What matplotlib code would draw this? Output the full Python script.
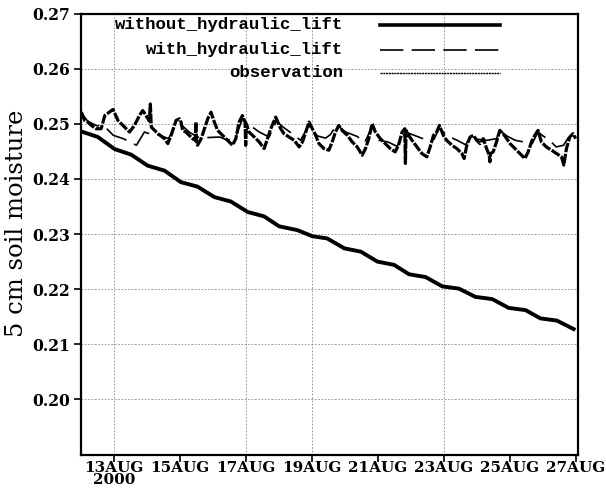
import matplotlib
matplotlib.use("Agg")
import matplotlib.pyplot as plt
from matplotlib.lines import Line2D

plt.rcParams['axes.grid'] = False

# time axis: days since 12AUG2000 00Z
tick_days = [1, 3, 5, 7, 9, 11, 13, 15]
tick_labels = ['13AUG\n2000', '15AUG', '17AUG', '19AUG', '21AUG', '23AUG', '25AUG', '27AUG']
grid_days = [1, 5, 7, 11]
y_ticks = [0.20, 0.21, 0.22, 0.23, 0.24, 0.25, 0.26, 0.27]

# without hydraulic lift (model)
dry_t = [0.01, 0.51, 1.02, 1.52, 2.02, 2.53, 3.03, 3.53, 4.04, 4.54, 5.05, 5.55,
         6.00, 6.56, 7.01, 7.46, 7.98, 8.48, 8.98, 9.49, 9.94, 10.44, 10.95, 11.45,
         11.95, 12.46, 12.96, 13.47, 13.92, 14.42, 14.98]
dry_v = [0.2486, 0.2476, 0.2454, 0.2444, 0.2424, 0.2415, 0.2394, 0.2386, 0.2367, 0.2359,
         0.2340, 0.2332, 0.2314, 0.2307, 0.2296, 0.2292, 0.2274, 0.2268, 0.2250, 0.2244,
         0.2227, 0.2222, 0.2205, 0.2201, 0.2186, 0.2182, 0.2166, 0.2162, 0.2147, 0.2143,
         0.2126]

# with hydraulic lift (model)
wet_t = [0.00, 0.20, 0.45, 0.73, 0.98, 1.28, 1.68, 1.77, 1.92, 2.08, 2.40, 2.65, 2.85,
         3.00, 3.30, 3.60, 3.85, 4.20, 4.45, 4.70, 4.90, 5.10, 5.40, 5.70, 5.92, 6.10,
         6.40, 6.65, 6.90, 7.16, 7.41, 7.55, 7.75, 8.02, 8.37, 8.60, 8.82, 9.03, 9.30,
         9.58, 9.75, 9.84, 10.10, 10.49, 10.70, 10.85, 11.10, 11.40, 11.65, 11.85, 12.00,
         12.30, 12.59, 12.69, 12.90, 13.16, 13.67, 13.85, 14.00, 14.20, 14.40, 14.62,
         14.80, 15.00]
wet_v = [0.2520, 0.2505, 0.2497, 0.2494, 0.2479, 0.2473, 0.2461, 0.2470, 0.2485, 0.2482,
         0.2479, 0.2473, 0.2495, 0.2500, 0.2484, 0.2474, 0.2475, 0.2476, 0.2470, 0.2478,
         0.2510, 0.2498, 0.2485, 0.2476, 0.2505, 0.2495, 0.2482, 0.2470, 0.2497, 0.2478,
         0.2474, 0.2480, 0.2498, 0.2485, 0.2477, 0.2466, 0.2495, 0.2470, 0.2467, 0.2459,
         0.2475, 0.2485, 0.2479, 0.2470, 0.2472, 0.2492, 0.2478, 0.2470, 0.2462, 0.2478,
         0.2472, 0.2470, 0.2473, 0.2488, 0.2478, 0.2470, 0.2464, 0.2485, 0.2478, 0.2470,
         0.2458, 0.2461, 0.2478, 0.2476]

# observation
obs_t = [0.01, 0.11, 0.21, 0.31, 0.46, 0.61, 0.72, 0.97, 1.12, 1.32, 1.47, 1.62, 1.77,
         1.87, 1.97, 2.07, 2.10, 2.13, 2.18, 2.33, 2.53, 2.63, 2.73, 2.88, 2.98,
         3.03, 3.08, 3.18, 3.28, 3.38, 3.46, 3.48, 3.50, 3.53, 3.64, 3.74, 3.84, 3.94,
         4.04, 4.14, 4.29, 4.44, 4.59, 4.69, 4.79, 4.89, 4.97, 4.99, 5.01, 5.09, 5.25,
         5.40, 5.55, 5.65, 5.75, 5.90,
         6.05, 6.15, 6.30, 6.46, 6.61, 6.71, 6.81, 6.91, 7.01, 7.11, 7.21, 7.36, 7.51,
         7.61, 7.71, 7.81, 7.91, 8.07, 8.22, 8.37, 8.52, 8.62, 8.72, 8.82, 8.92,
         9.07, 9.22, 9.37, 9.52, 9.62, 9.73, 9.81, 9.83, 9.85, 9.93, 10.03, 10.18,
         10.33, 10.48, 10.58, 10.68, 10.78, 10.86, 10.98, 11.08, 11.24, 11.39, 11.54,
         11.61, 11.69, 11.79, 11.89, 11.99,
         12.09, 12.19, 12.29, 12.37, 12.39, 12.41, 12.49, 12.59, 12.69, 12.79, 12.90,
         13.00, 13.15, 13.30, 13.45, 13.55, 13.65, 13.75, 13.85, 13.95, 14.10, 14.26,
         14.41, 14.56, 14.63, 14.71, 14.81, 14.91, 14.99]
obs_v = [0.2521, 0.2506, 0.2503, 0.2497, 0.2491, 0.2491, 0.2515, 0.2526, 0.2506, 0.2494,
         0.2485, 0.2497, 0.2515, 0.2524, 0.2515, 0.2505, 0.2536, 0.2494, 0.2491, 0.2482,
         0.2473, 0.2464, 0.2479, 0.2506, 0.2509,
         0.2503, 0.2488, 0.2485, 0.2479, 0.2473, 0.2470, 0.2503, 0.2468, 0.2461, 0.2473,
         0.2491, 0.2509, 0.2521, 0.2503, 0.2488, 0.2479, 0.2470, 0.2461, 0.2473, 0.2503,
         0.2515, 0.2503, 0.2461, 0.2500, 0.2485, 0.2476, 0.2467, 0.2455, 0.2473, 0.2491,
         0.2512,
         0.2491, 0.2482, 0.2476, 0.2470, 0.2458, 0.2467, 0.2485, 0.2503, 0.2491, 0.2479,
         0.2464, 0.2455, 0.2452, 0.2467, 0.2485, 0.2497, 0.2488, 0.2479, 0.2467, 0.2458,
         0.2443, 0.2455, 0.2473, 0.2500, 0.2485,
         0.2473, 0.2464, 0.2455, 0.2449, 0.2461, 0.2485, 0.2491, 0.2428, 0.2488, 0.2479,
         0.2470, 0.2458, 0.2446, 0.2440, 0.2458, 0.2479, 0.2485, 0.2497, 0.2479, 0.2470,
         0.2461, 0.2455, 0.2446, 0.2437, 0.2461, 0.2476, 0.2479, 0.2470,
         0.2464, 0.2473, 0.2455, 0.2443, 0.2431, 0.2446, 0.2449, 0.2467, 0.2488, 0.2482,
         0.2473, 0.2464, 0.2455, 0.2446, 0.2437, 0.2449, 0.2467, 0.2479, 0.2488, 0.2467,
         0.2458, 0.2452, 0.2446, 0.2440, 0.2425, 0.2455, 0.2476, 0.2482, 0.2473]

legend_names = ['without_hydraulic_lift', 'with_hydraulic_lift', 'observation']

fig = plt.figure(figsize=(6.06, 4.93), dpi=100)
ax = fig.add_axes([0.1337, 0.0780, 0.8201, 0.8946])

ax.plot(obs_t, obs_v, color='black', lw=2.3, linestyle=(0, (3, 0.5)))
ax.plot(wet_t, wet_v, color='black', lw=1.2, linestyle=(0, (14, 5)))
ax.plot(dry_t, dry_v, color='black', lw=2.8, solid_capstyle='butt')

ax.set_xlim(0, 15.06)
ax.set_ylim(0.19, 0.27)
ax.set_yticks(y_ticks)
ax.set_yticklabels([f'{v:.2f}' for v in y_ticks])
ax.set_xticks(tick_days)
ax.set_xticklabels(tick_labels, multialignment='center', linespacing=0.75)
ax.grid(False)

# dotted guide lines: every y tick, but only a few of the dates
for v in y_ticks[:-1]:
    ax.axhline(v, linestyle=(0, (2, 2)), color='#888888', lw=0.6, zorder=0)
for d in grid_days:
    ax.axvline(d, linestyle=(0, (2, 2)), color='#888888', lw=0.6, zorder=0)

ax.tick_params(direction='out', length=5, width=1.2)
ax.tick_params(axis='x', pad=0)
ax.tick_params(axis='y', pad=3)
for lab in ax.get_yticklabels():
    lab.set_fontfamily('DejaVu Serif')
    lab.set_fontweight('bold')
    lab.set_fontsize(11.2)
for lab in ax.get_xticklabels():
    lab.set_fontfamily('DejaVu Serif')
    lab.set_fontweight('bold')
    lab.set_fontsize(11)
for s in ax.spines.values():
    s.set_linewidth(1.6)

ax.set_ylabel('5 cm soil moisture', family='DejaVu Serif', fontsize=17.5)
ax.yaxis.set_label_coords(-0.107, 0.525)

# hand-made legend in the upper part of the axes
styles = [dict(lw=2.6), dict(lw=1.2, linestyle=(0, (14, 5))), dict(lw=1.0, linestyle=(0, (1.5, 0.5)))]
rows = [0.974, 0.918, 0.866]
for name, st, yy in zip(legend_names, styles, rows):
    ax.text(0.527, yy, name, transform=ax.transAxes, ha='right', va='center',
            family='Liberation Mono', fontweight='bold', fontsize=12.5)
    ax.add_line(Line2D([0.602, 0.843], [yy, yy], transform=ax.transAxes, color='black', **st))

fig.savefig('out.png', dpi=100)
